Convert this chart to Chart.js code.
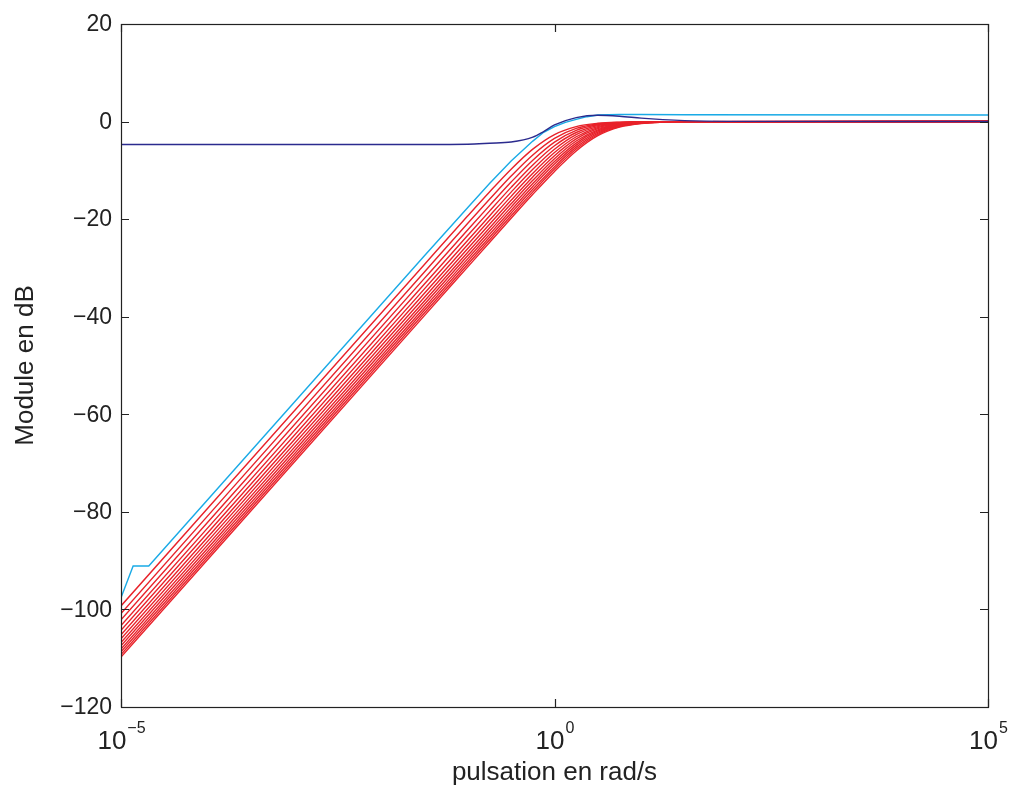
<!DOCTYPE html>
<html>
<head>
<meta charset="utf-8">
<script src="https://cdn.jsdelivr.net/npm/chart.js@4.4.1/dist/chart.umd.min.js"></script>
<style>
  html, body { margin: 0; padding: 0; background: #fff; }
</style>
</head>
<body>
<canvas id="bode" width="1011" height="789"></canvas>
<script>
// pulsations (rad/s) where the curves were read
const omegaRed = [1e-5, 0.0316, 0.1, 0.178, 0.316, 0.562, 1, 1.78, 3.16, 5.62, 10, 31.6, 1e5];
const omegaCyan = [1e-5, 1.38e-5, 2.09e-5, 0.0316, 0.1, 0.178, 0.316, 0.562, 0.75, 1, 1.334, 1.78, 2.37, 3.16, 5.62, 10, 31.6, 1e5];
const omegaBlue = [1e-5, 0.0316, 0.1, 0.178, 0.316, 0.562, 0.741, 1, 1.78, 3.16, 5.62, 10, 17.8, 31.6, 100, 1e5];

// module en dB
const redCurves = [
  [-99.28, -29.28, -19.32, -14.43, -9.76, -5.65, -2.66, -1.03, -0.35, -0.11, -0.04, -0.004, 0],
  [-100.83, -30.83, -20.86, -15.94, -11.17, -6.84, -3.44, -1.41, -0.50, -0.16, -0.05, -0.005, 0],
  [-102.14, -32.14, -22.17, -17.23, -12.40, -7.91, -4.21, -1.81, -0.66, -0.22, -0.07, -0.007, 0],
  [-103.29, -33.29, -23.31, -18.35, -13.49, -8.89, -4.96, -2.24, -0.84, -0.28, -0.09, -0.009, 0],
  [-104.30, -34.30, -24.31, -19.35, -14.46, -9.78, -5.67, -2.67, -1.03, -0.35, -0.12, -0.012, 0],
  [-105.20, -35.20, -25.21, -20.24, -15.33, -10.60, -6.35, -3.11, -1.24, -0.43, -0.14, -0.014, 0],
  [-106.02, -36.02, -26.03, -21.05, -16.13, -11.35, -6.99, -3.55, -1.46, -0.52, -0.17, -0.017, 0],
  [-106.77, -36.77, -26.78, -21.80, -16.86, -12.05, -7.60, -3.98, -1.69, -0.61, -0.20, -0.021, 0],
  [-107.46, -37.46, -27.47, -22.48, -17.54, -12.70, -8.18, -4.41, -1.92, -0.70, -0.24, -0.024, 0],
  [-108.10, -38.10, -28.10, -23.12, -18.16, -13.30, -8.72, -4.83, -2.16, -0.81, -0.27, -0.028, 0],
  [-108.69, -38.69, -28.70, -23.71, -18.75, -13.87, -9.24, -5.24, -2.40, -0.91, -0.31, -0.032, 0],
  [-109.25, -39.25, -29.25, -24.26, -19.30, -14.41, -9.74, -5.63, -2.65, -1.02, -0.35, -0.036, 0],
  [-109.77, -39.77, -29.78, -24.78, -19.82, -14.91, -10.21, -6.02, -2.90, -1.14, -0.39, -0.041, 0]
];
const cyanCurve = [-97.6, -91.1, -91.1, -27.5, -17.6, -12.7, -8.1, -4.0, -2.2, -1.05, -0.15, 0.45, 1.0, 1.35, 1.45, 1.45, 1.4, 1.35];
const blueCurve = [-4.7, -4.7, -4.65, -4.45, -4.2, -3.2, -2.1, -0.7, 0.8, 1.3, 1.1, 0.7, 0.4, 0.2, 0.05, 0];

// axes
const xTickExp = [-5, 0, 5];
const yTicks = [20, 0, -20, -40, -60, -80, -100, -120];
const xLabel = 'pulsation en rad/s';
const yLabel = 'Module en dB';

const FONT = '"Liberation Sans", Arial, Helvetica, sans-serif';
const INK = '#222222';

function toPoints(xs, ys) {
  return xs.map((x, i) => ({ x: x, y: ys[i] }));
}

function lineSet(data, color, smooth) {
  return {
    data: data,
    borderColor: color,
    borderWidth: 1.4,
    pointRadius: 0,
    fill: false,
    tension: 0,
    cubicInterpolationMode: smooth ? 'monotone' : 'default'
  };
}

const datasets = [];
datasets.push(lineSet(toPoints(omegaBlue, blueCurve), '#2b2b8e', true));
datasets.push(lineSet(toPoints(omegaCyan, cyanCurve), '#19aae6', false));
redCurves.forEach(c => datasets.push(lineSet(toPoints(omegaRed, c), '#e8222a', true)));

// box, inward ticks, labels (MATLAB look)
const matlabAxes = {
  id: 'matlabAxes',
  afterDraw(chart) {
    const ctx = chart.ctx;
    const a = chart.chartArea;
    const xs = chart.scales.x;
    const ys = chart.scales.y;
    const tl = 8;
    ctx.save();
    ctx.strokeStyle = INK;
    ctx.lineWidth = 1.2;
    ctx.strokeRect(a.left + 0.5, a.top + 0.5, a.right - a.left, a.bottom - a.top);

    ctx.beginPath();
    yTicks.forEach(v => {
      const py = Math.round(ys.getPixelForValue(v)) + 0.5;
      ctx.moveTo(a.left, py); ctx.lineTo(a.left + tl, py);
      ctx.moveTo(a.right, py); ctx.lineTo(a.right - tl, py);
    });
    xTickExp.forEach(e => {
      const px = Math.round(xs.getPixelForValue(Math.pow(10, e))) + 0.5;
      ctx.moveTo(px, a.bottom); ctx.lineTo(px, a.bottom - tl);
      ctx.moveTo(px, a.top); ctx.lineTo(px, a.top + tl);
    });
    ctx.stroke();

    ctx.fillStyle = INK;
    ctx.font = '23px ' + FONT;
    ctx.textAlign = 'right';
    ctx.textBaseline = 'middle';
    yTicks.forEach(v => {
      const py = ys.getPixelForValue(v);
      const txt = v < 0 ? '\u2212' + Math.abs(v) : String(v);
      ctx.fillText(txt, a.left - 9, py + 1);
    });

    ctx.textBaseline = 'alphabetic';
    xTickExp.forEach(e => {
      const px = xs.getPixelForValue(Math.pow(10, e));
      const sup = e < 0 ? '\u2212' + Math.abs(e) : String(e);
      ctx.font = '26px ' + FONT;
      const wb = ctx.measureText('10').width;
      ctx.font = '16px ' + FONT;
      const ws = ctx.measureText(sup).width;
      const x0 = px - (wb + ws) / 2;
      ctx.textAlign = 'left';
      ctx.font = '26px ' + FONT;
      ctx.fillText('10', x0, a.bottom + 42);
      ctx.font = '16px ' + FONT;
      ctx.fillText(sup, x0 + wb + 1, a.bottom + 26);
    });

    ctx.font = '26px ' + FONT;
    ctx.textAlign = 'center';
    ctx.fillText(xLabel, (a.left + a.right) / 2, a.bottom + 73);

    ctx.translate(33, (a.top + a.bottom) / 2);
    ctx.rotate(-Math.PI / 2);
    ctx.fillText(yLabel, 0, 0);
    ctx.restore();
  }
};

new Chart(document.getElementById('bode'), {
  type: 'line',
  data: { datasets: datasets },
  options: {
    responsive: false,
    devicePixelRatio: 1,
    animation: false,
    layout: { padding: { left: 121, right: 23, top: 24, bottom: 82 } },
    plugins: { legend: { display: false }, tooltip: { enabled: false } },
    scales: {
      x: { type: 'logarithmic', min: 1e-5, max: 1e5, display: false },
      y: { type: 'linear', min: -120, max: 20, display: false }
    }
  },
  plugins: [matlabAxes]
});
</script>
</body>
</html>
